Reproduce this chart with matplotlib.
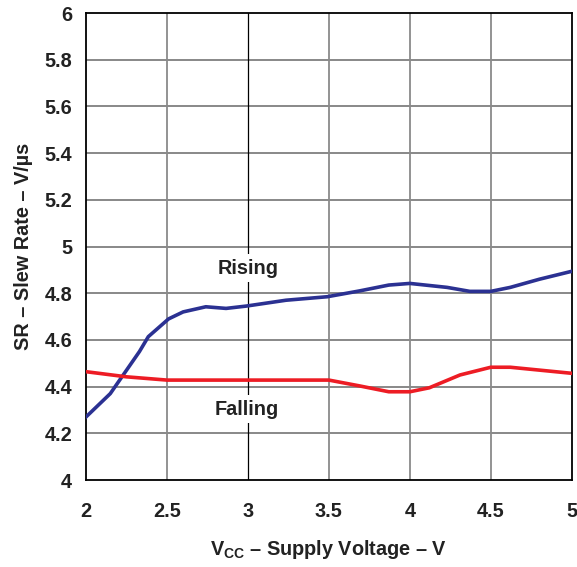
import matplotlib
matplotlib.use('Agg')
import matplotlib.pyplot as plt

plt.rcParams['font.family'] = ['Liberation Sans', 'DejaVu Sans']
plt.rcParams['font.weight'] = 'bold'
plt.rcParams['mathtext.fontset'] = 'custom'
plt.rcParams['mathtext.bf'] = 'Liberation Sans:bold'
plt.rcParams['mathtext.rm'] = 'Liberation Sans:bold'
plt.rcParams['mathtext.default'] = 'bf'

# rising slew rate vs supply voltage
vcc_rise = [2.0, 2.15, 2.33, 2.385, 2.51, 2.6, 2.74, 2.865, 2.99, 3.235, 3.49,
            3.69, 3.87, 4.0, 4.23, 4.37, 4.5, 4.62, 4.8, 5.0]
sr_rise = [4.27, 4.37, 4.55, 4.614, 4.69, 4.72, 4.742, 4.735, 4.745, 4.77, 4.785,
           4.81, 4.835, 4.842, 4.825, 4.808, 4.808, 4.825, 4.86, 4.894]

# falling slew rate vs supply voltage
vcc_fall = [2.0, 2.25, 2.5, 3.5, 3.69, 3.87, 4.0, 4.12, 4.31, 4.5, 4.62, 5.0]
sr_fall = [4.464, 4.442, 4.428, 4.428, 4.403, 4.378, 4.378, 4.395, 4.45, 4.483,
           4.483, 4.457]

xticks = [2, 2.5, 3, 3.5, 4, 4.5, 5]
xticklabels = ['2', '2.5', '3', '3.5', '4', '4.5', '5']
yticks = [4, 4.2, 4.4, 4.6, 4.8, 5, 5.2, 5.4, 5.6, 5.8, 6]
yticklabels = ['4', '4.2', '4.4', '4.6', '4.8', '5', '5.2', '5.4', '5.6', '5.8', '6']

txt = '#222222'
fs = 14.3

fig = plt.figure(figsize=(5.77, 5.67), dpi=100)
ax = fig.add_axes([0.149, 0.1534, 0.842, 0.8236])

ax.set_xlim(2, 5)
ax.set_ylim(4, 6)

for y in yticks[1:-1]:
    ax.axhline(y, color='#7f7f7f', lw=1.3, zorder=1)
for x in xticks[1:-1]:
    if x == 3:
        ax.axvline(x, color='black', lw=0.9, zorder=1)
    else:
        ax.axvline(x, color='#8a8a8a', lw=1.3, zorder=1)

ax.plot(vcc_rise, sr_rise, color='#2b3192', lw=2.6, zorder=3)
ax.plot(vcc_fall, sr_fall, color='#ed1c24', lw=2.6, zorder=3)

ax.text(3, 4.908, 'Rising', ha='center', va='center', fontsize=fs,
        fontweight='bold', color=txt, zorder=4,
        bbox=dict(facecolor='white', edgecolor='none', pad=3))
ax.text(2.99, 4.304, 'Falling', ha='center', va='center', fontsize=fs,
        fontweight='bold', color=txt, zorder=4,
        bbox=dict(facecolor='white', edgecolor='none', pad=3))

ax.set_xticks(xticks)
ax.set_xticklabels(xticklabels)
ax.set_yticks(yticks)
ax.set_yticklabels(yticklabels)
ax.tick_params(axis='both', length=0, labelsize=fs, colors=txt)
ax.tick_params(axis='x', pad=16)
ax.tick_params(axis='y', pad=10)
for lab in ax.get_xticklabels() + ax.get_yticklabels():
    lab.set_fontweight('bold')

for s in ax.spines.values():
    s.set_linewidth(1.3)
    s.set_color('black')

ax.set_xlabel(r'V$_{CC}$ – Supply Voltage – V', fontsize=fs, fontweight='bold',
              color=txt, labelpad=12)
ax.set_ylabel('SR – Slew Rate – V/µs', fontsize=fs, fontweight='bold',
              color=txt, labelpad=8)

plt.savefig('out.png', dpi=100)
